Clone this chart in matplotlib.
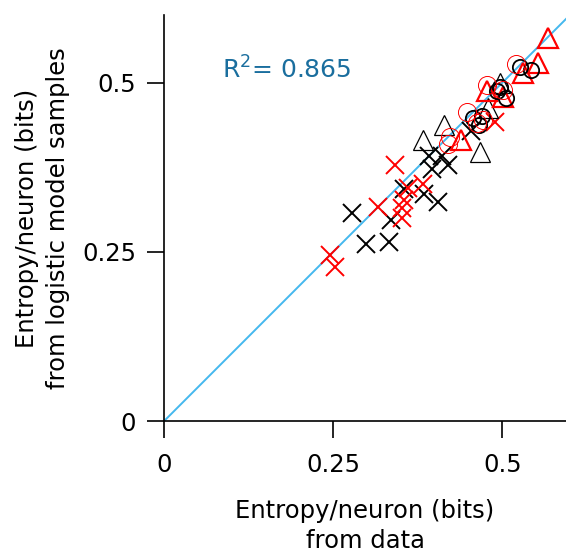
import matplotlib
matplotlib.use("Agg")
import matplotlib.pyplot as plt

# data: (from data, from logistic model samples)
black_x_x = [0.277, 0.299, 0.333, 0.335, 0.355, 0.384, 0.405, 0.391, 0.396, 0.410, 0.420, 0.453]
black_x_y = [0.308, 0.261, 0.265, 0.297, 0.343, 0.335, 0.324, 0.391, 0.373, 0.391, 0.378, 0.428]

red_x_x = [0.245, 0.252, 0.341, 0.316, 0.352, 0.352, 0.354, 0.360, 0.382, 0.489]
red_x_y = [0.245, 0.228, 0.378, 0.316, 0.300, 0.314, 0.327, 0.344, 0.350, 0.442]

black_tri_x = [0.382, 0.414, 0.467, 0.479, 0.496]
black_tri_y = [0.415, 0.437, 0.398, 0.462, 0.500]

red_tri_x = [0.439, 0.477, 0.501, 0.531, 0.553, 0.567]
red_tri_y = [0.415, 0.487, 0.479, 0.514, 0.529, 0.566]

black_circ_x = [0.457, 0.465, 0.470, 0.492, 0.497, 0.506, 0.526, 0.543]
black_circ_y = [0.447, 0.437, 0.450, 0.487, 0.494, 0.477, 0.523, 0.519]

red_circ_x = [0.420, 0.423, 0.447, 0.462, 0.472, 0.477, 0.501, 0.520]
red_circ_y = [0.410, 0.420, 0.457, 0.440, 0.445, 0.497, 0.489, 0.528]

ticks = [0, 0.25, 0.5]
tick_labels = ["0", "0.25", "0.5"]
r2_text = "R$^2$= 0.865"

plt.rcParams["font.family"] = ["DejaVu Sans"]

fig = plt.figure(figsize=(5.66, 5.52), dpi=100)
ax = fig.add_axes([0.290, 0.2373, 0.710, 0.7357])

ax.plot([0, 0.6], [0, 0.6], color="#45b8ee", lw=1.4, zorder=1)

ax.plot(black_x_x, black_x_y, "x", color="black", ms=13.5, mew=1.4, ls="none")
ax.plot(red_x_x, red_x_y, "x", color="red", ms=13.5, mew=1.4, ls="none")
ax.plot(black_tri_x, black_tri_y, "^", mfc="none", mec="black", ms=14, mew=0.9, ls="none")
ax.plot(red_tri_x, red_tri_y, "^", mfc="none", mec="red", ms=14, mew=1.6, ls="none")
ax.plot(black_circ_x, black_circ_y, "o", mfc="none", mec="black", ms=11, mew=1.3, ls="none")
ax.plot(red_circ_x, red_circ_y, "o", mfc="none", mec="red", ms=13, mew=0.7, ls="none")

ax.set_xlim(0, 0.594)
ax.set_ylim(0, 0.600)
ax.set_xticks(ticks)
ax.set_xticklabels(tick_labels)
ax.set_yticks(ticks)
ax.set_yticklabels(tick_labels)
ax.tick_params(direction="out", length=12, width=1.2, labelsize=17.5, pad=8, colors="black")
ax.tick_params(axis="x", pad=11)

for side in ("top", "right"):
    ax.spines[side].set_visible(False)
for side in ("left", "bottom"):
    ax.spines[side].set_linewidth(1.2)

ax.text(0.086, 0.518, r2_text, color="#1a6e9e", fontsize=18, va="center", ha="left")

ax.set_xlabel("Entropy/neuron (bits)\nfrom data", fontsize=17.5, labelpad=16, linespacing=1.3)
ax.set_ylabel("Entropy/neuron (bits)\nfrom logistic model samples", fontsize=17.5,
              labelpad=9, linespacing=1.35)

fig.savefig("out.png", dpi=100)
